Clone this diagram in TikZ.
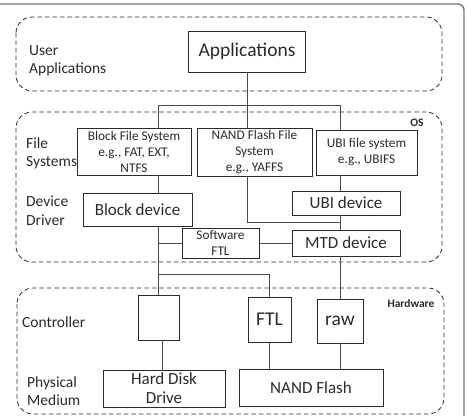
\documentclass[tikz,border=0pt]{standalone}
\usepackage{fontspec}
\setmainfont{Carlito}
\definecolor{ink}{HTML}{2A2A2A}
\definecolor{frame}{HTML}{777777}
\tikzset{
  box/.style={draw=ink, line width=0.9pt, inner sep=0pt, align=center, text=ink},
  conn/.style={draw=ink!85, line width=0.7pt},
  region/.style={draw=ink, dashed, line width=0.8pt, dash pattern=on 4.5pt off 3pt, rounded corners=16pt},
  lbl/.style={anchor=west, align=left, inner sep=0pt, text=ink, font=\fontsize{15.5}{18.5}\selectfont},
  fsz/.style={font=\fontsize{13.3}{16}\selectfont},
  big/.style={font=\fontsize{19.5}{21}\selectfont},
  mid/.style={font=\fontsize{17}{19}\selectfont},
  tag/.style={inner sep=0pt, text=ink, font=\bfseries\fontsize{11.5}{12}\selectfont}
}
\begin{document}
\begin{tikzpicture}[x=1pt,y=-1pt]
\useasboundingbox (0,0) rectangle (468,416);
% outer frame
\draw[frame, line width=1.4pt, rounded corners=6pt] (0,4) -- (464,4) -- (464,416);
% regions
\draw[region] (16,17) rectangle (442,91);
\draw[region] (16,112) rectangle (442,262);
\draw[region] (17,288) rectangle (444,414);
\node[tag] (os) at (417,123) {OS};
\node[tag] (hw) at (411,303) {Hardware};
% left labels
\node[lbl] (lua) at (29,61) {User\\Applications};
\node[lbl] (lfs) at (26,153.5) {File\\Systems};
\node[lbl] (ldd) at (26,210.5) {Device\\Driver};
\node[lbl] (lct) at (22,322) {Controller};
\node[lbl] (lpm) at (27,391) {Physical\\Medium};
% boxes
\node[box, big, minimum width=117pt, minimum height=41pt] (apps) at (247,51.5) {Applications};
\node[box, fsz, minimum width=114pt, minimum height=47pt] (blockfs) at (134,151.5) {Block File System\\e.g., FAT, EXT,\\NTFS};
\node[box, fsz, minimum width=115pt, minimum height=48pt] (nandfs) at (254.5,152) {NAND Flash File\\System\\e.g., YAFFS};
\node[box, fsz, minimum width=101pt, minimum height=45pt] (ubifs) at (366.5,152.5) {UBI file system\\e.g., UBIFS};
\node[box, mid, minimum width=109pt, minimum height=33pt] (bdev) at (137.5,209.5) {Block device};
\node[box, mid, minimum width=108pt, minimum height=24pt] (ubidev) at (346,203) {UBI device};
\node[box, mid, minimum width=108pt, minimum height=26pt] (mtd) at (346,243) {MTD device};
\node[box, fsz, minimum width=77pt, minimum height=30pt] (sftl) at (220.5,243) {Software\\FTL};
\node[box, minimum width=41pt, minimum height=45pt] (ctrl) at (158.5,317.5) {};
\node[box, big, minimum width=43pt, minimum height=45pt] (ftl) at (269.5,319.5) {FTL};
\node[box, big, minimum width=46pt, minimum height=44pt] (raw) at (340,321) {raw};
\node[box, mid, minimum width=122pt, minimum height=37pt] (hdd) at (164,388.5) {Hard Disk\\Drive};
\node[box, mid, minimum width=144pt, minimum height=37pt] (nand) at (311,387.5) {NAND Flash};
% junction coordinates
\coordinate (cA) at (158,105);
\coordinate (cB) at (340,105);
\coordinate (j1) at (340,222);
\coordinate (j2) at (158,274);
% connectors
\draw[conn] (apps.south) -- (apps.south |- nandfs.north);
\draw[conn] (cA |- blockfs.north) -- (cA) -- (cB) -- (cB |- ubifs.north);
\draw[conn] (cA |- blockfs.south) -- (cA |- bdev.north);
\draw[conn] (apps.south |- nandfs.south) |- (j1);
\draw[conn] (cB |- ubifs.south) -- (cB |- ubidev.north);
\draw[conn] (cB |- ubidev.south) -- (cB |- mtd.north);
\draw[conn] (cA |- bdev.south) -- (cA |- ctrl.north);
\draw[conn] (cA |- sftl.west) -- (sftl.west);
\draw[conn] (sftl.east) -- (mtd.west);
\draw[conn] (cB |- mtd.south) -- (raw.north);
\draw[conn] (j2) -| (ftl.north);
\draw[conn] ([xshift=3.5pt]ctrl.south) -- ([xshift=3.5pt]ctrl.south |- hdd.north);
\draw[conn] (ftl.south) -- (ftl.south |- nand.north);
\draw[conn] (raw.south) -- (raw.south |- nand.north);
\end{tikzpicture}
\end{document}
